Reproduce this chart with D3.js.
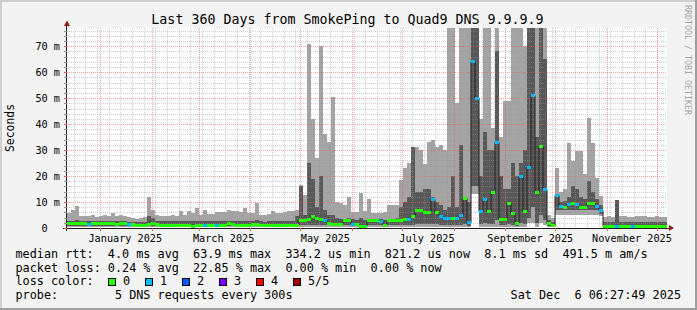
<!DOCTYPE html>
<html><head><meta charset="utf-8">
<script src="https://cdn.jsdelivr.net/npm/d3@7"></script>
<style>
html,body{margin:0;padding:0;background:#f3f3f3;}
svg{display:block;}
text{font-family:"DejaVu Sans Mono",monospace;white-space:pre;}
</style></head><body>
<svg id="chart" width="697" height="310"></svg>
<script>
// ---- data (milliseconds), one entry per ~2.4 day step ----
const minRtt = [
0.3,0.3,0.3,0.3,0.3,0.3,0.3,0.3,0.3,0.3,0.3,0.3,0.3,0.3,0.3,0.3,0.3,0.3,0.3,0.3,
0.3,0.3,0.3,0.3,0.3,0.3,0.3,0.3,0.3,0.3,0.3,0.3,0.3,0.3,0.3,0.3,0.3,0.3,0.3,0.3,
0.3,0.3,0.3,0.3,0.3,0.3,0.3,0.3,0.3,0.3,0.3,0.3,0.3,0.3,0.3,0.3,0.3,0.3,0.4,0.4,
0.4,0.4,0.4,0.4,0.4,0.4,0.4,0.4,0.4,0.4,0.4,0.4,0.4,0.3,0.3,0.4,0.4,0.4,0.4,0.4,
0.4,0.4,0.4,0.4,0.4,0.4,0.4,0.5,0.5,0.5,0.5,0.5,0.5,0.4,0.4,0.4,0.4,0.4,0.4,0.5,
0.3,13,13,0.5,0.5,0.5,0.5,0.5,0.4,0.4,0.5,0.4,0.3,0.5,0.5,2.0,2.0,0.5,2.0,1.0,
0.3,0.3,5.0,5.0,5.0,5.0,5.0,5.0,5.0,5.0,5.0,5.0,5.0,4.5,0.3,0.3,0.3,0.3,0.3,0.3,
0.3,0.3,0.3,0.3,0.3,0.3,0.3,0.3,0.3,0.3];
const lowRtt = [
0.8,0.8,0.8,0.8,0.8,0.8,0.8,0.8,0.8,0.8,0.8,0.8,0.8,0.8,0.8,0.8,0.7,0.6,0.6,0.6,
0.7,0.7,0.6,0.6,0.6,0.6,0.6,0.6,0.6,0.6,0.6,0.5,0.6,0.6,0.6,0.6,0.6,0.6,0.6,0.6,
0.7,0.6,0.6,0.6,0.6,0.6,0.6,0.7,0.6,0.5,0.5,0.5,0.5,0.5,0.6,0.6,0.6,0.6,1.0,1.0,
1.2,1.2,1.2,1.2,1.0,1.0,0.8,0.8,0.8,1.0,1.0,0.8,0.8,0.5,0.5,1.0,1.0,1.0,1.0,0.7,
1.0,1.0,1.0,1.0,1.0,1.0,1.2,1.5,1.5,1.5,1.5,1.5,1.5,1.2,1.0,1.0,1.0,1.0,1.2,1.5,
0.8,16,16,1.5,2.0,1.5,1.5,3.0,1.0,1.0,1.5,1.2,0.8,2.0,1.5,4.0,8.0,2.0,5.0,3.0,
0.6,0.5,6.8,6.8,6.8,7.0,7.0,7.0,6.8,6.8,7.0,7.0,6.8,5.5,0.5,0.5,0.5,0.5,0.5,0.5,
0.5,0.5,0.5,0.5,0.5,0.5,0.5,0.5,0.5,0.5];
const medianRtt = [
1.6,1.6,1.6,1.7,1.6,1.5,1.6,1.6,1.6,1.7,1.6,1.6,1.5,1.6,1.6,1.5,1.4,0.9,0.8,0.9,
1.2,1.6,1.2,1.0,0.9,1.0,0.9,1.0,1.1,1.0,1.0,0.6,1.0,1.0,1.1,1.0,1.0,1.0,1.0,1.0,
1.6,1.2,1.0,1.0,1.1,1.0,1.2,1.4,1.0,0.8,0.8,0.8,0.9,0.9,1.0,1.0,1.0,1.0,2.7,2.8,
3.3,4.5,3.5,3.3,3.0,1.8,1.4,1.4,1.4,3.0,3.0,1.5,1.4,0.7,0.7,2.7,2.7,2.7,2.4,1.0,
2.7,2.7,2.7,3.0,3.2,3.2,4.5,6.7,6.7,6.0,6.0,11.0,5.9,4.6,3.5,3.6,3.6,3.6,4.7,11.3,
2.0,64,50,6.2,11.0,6.2,13.5,33,3.2,3.2,9.6,5.7,1.9,19.8,6.2,23.3,51,13.6,31.5,14.9,
1.6,0.8,12.5,8.3,8.0,9.2,9.5,9.0,7.9,7.9,9.6,9.6,8.3,6.7,0.7,0.7,0.6,0.6,0.6,0.6,
0.6,0.6,0.6,0.6,0.6,0.6,0.6,0.6,0.6,0.6];
const highRtt = [
2.8,2.8,3.0,2.7,2.6,2.6,2.7,2.6,2.7,2.7,2.6,2.8,2.6,2.7,2.6,2.5,2.3,2.2,2.4,2.5,
4.5,4.0,2.8,2.6,2.6,2.7,2.6,2.6,2.8,2.6,2.7,2.7,2.8,2.6,2.8,2.6,2.6,2.7,2.7,2.6,
2.8,2.7,2.6,2.6,2.8,2.6,2.7,2.9,2.6,2.5,2.6,2.6,2.6,2.6,2.7,2.7,2.8,4.5,16,5.0,
25,19,8.0,20,7.0,5.0,5.0,4.0,3.5,3.5,4.0,3.5,3.0,4.0,3.0,3.5,3.5,3.5,3.5,3.2,
3.5,3.5,4.0,8.0,10,12,31,14,14,15,15,12,10,9.0,7.0,8.0,20,8.0,32,12,
10,80,80,20,37,30,30,68,20,15,15,25,20,25,30,80,80,35,80,65,
3.0,2.5,13,10,10.5,12,16,15,12,11,18,14,11,9.0,2.5,2.4,2.3,10.8,2.3,2.4,
2.3,2.3,2.4,2.3,2.4,2.3,2.3,2.4,2.3,2.3];
const maxRtt = [
5.8,7.0,8.3,4.8,4.6,4.5,4.9,4.4,4.6,5.0,4.7,5.6,4.8,5.0,4.6,4.4,3.8,3.6,4.0,4.2,
11.8,7.0,5.0,4.5,4.8,4.6,5.0,4.5,6.4,4.9,6.4,5.8,7.7,5.1,7.1,5.5,5.3,6.0,6.0,6.2,
7.1,6.4,6.4,6.0,7.7,5.8,5.8,9.6,5.1,5.1,5.3,6.4,5.8,5.8,6.0,6.4,6.4,7.1,16.6,12.8,
71,42,27,70,36,33,50.5,10,9.5,9.0,11.8,6.0,6.0,13.4,6.5,11,5.8,5.8,5.8,6.0,
9.0,9.0,9.0,18.5,23,25,31,31,30,24.5,33,34,31,32,30,80,80,48,80,80,
80,80,80,42,80,80,38.5,80,35,49,49,80,80,80,70,80,80,80,80,80,
5.0,4.0,23,14,15,32.8,25.8,29.7,29.7,20.6,42.5,32.8,19.3,12.3,4.3,4.5,4.3,10.8,4.5,4.6,
4.3,4.4,4.6,4.5,4.5,4.3,4.4,4.5,4.3,4.4];
const lossCount = [
0,0,0,0,0,1,0,0,0,0,0,0,0,0,0,1,0,0,0,0,
0,0,0,0,0,0,0,0,0,0,0,0,0,0,1,0,0,1,0,0,
0,0,0,0,0,0,0,0,0,0,0,0,0,0,0,0,0,0,0,0,
0,0,0,0,1,0,0,0,0,0,0,1,0,0,0,0,0,0,1,0,
0,0,0,0,0,1,0,0,0,0,0,1,0,1,1,1,0,1,1,0,
1,1,1,1,1,0,0,1,0,0,0,0,0,1,0,1,1,0,0,1,
0,0,1,1,0,1,0,1,0,0,0,0,1,1,0,0,0,1,0,0,
0,1,0,0,0,0,0,0,0,0];

const yTickValues = [0,10,20,30,40,50,60,70];
const yTickLabels = ["0","10 m","20 m","30 m","40 m","50 m","60 m","70 m"];
const monthLabels = ["January 2025","March 2025","May 2025","July 2025","September 2025","November 2025"];
const lossNames = ["0","1","2","3","4","5/5"];
const lossColors = ["#26ff00","#00b8ff","#0059ff","#7e00ff","#ff0000","#a10000"];
const legendLines = [
  "median rtt:  4.0 ms avg  63.9 ms max  334.2 us min  821.2 us now  8.1 ms sd  491.5 m am/s",
  "packet loss: 0.24 % avg  22.85 % max  0.00 % min  0.00 % now"
];

// ---- layout ----
const svg = d3.select("#chart");
const P = {left:67, right:667, top:28, bottom:228};
const startTime = new Date(Date.UTC(2024,11,12,0,30,0));
const endTime = new Date(+startTime + 360*864e5);
const x = d3.scaleUtc().domain([startTime,endTime]).range([P.left,P.right]);
const y = d3.scaleLinear().domain([0,77]).range([P.bottom,P.top]).clamp(true);
const n = medianRtt.length;
const stepMs = (+endTime - +startTime)/n;
const tAt = i => new Date(+startTime + i*stepMs);

// background + frame shading
svg.append("rect").attr("width",697).attr("height",310).attr("fill","#f3f3f3");
svg.append("rect").attr("x",0).attr("y",0).attr("width",697).attr("height",2).attr("fill","#cfcfcf");
svg.append("rect").attr("x",0).attr("y",0).attr("width",2).attr("height",310).attr("fill","#cfcfcf");
svg.append("rect").attr("x",0).attr("y",308).attr("width",697).attr("height",2).attr("fill","#9e9e9e");
svg.append("rect").attr("x",695).attr("y",0).attr("width",2).attr("height",310).attr("fill","#9e9e9e");
svg.append("rect").attr("x",P.left).attr("y",P.top).attr("width",P.right-P.left).attr("height",P.bottom-P.top).attr("fill","#ffffff");

const g = svg.append("g").attr("shape-rendering","crispEdges");
const cols = d3.range(n);
// outer smoke
g.selectAll("rect.s0").data(cols).join("rect")
  .attr("x",i=>x(tAt(i))).attr("width",i=>x(tAt(i+1))-x(tAt(i)))
  .attr("y",i=>y(maxRtt[i])).attr("height",i=>y(minRtt[i])-y(maxRtt[i]))
  .attr("fill","#a4a4a4");
// inner smoke
g.selectAll("rect.s1").data(cols).join("rect")
  .attr("x",i=>x(tAt(i))).attr("width",i=>x(tAt(i+1))-x(tAt(i)))
  .attr("y",i=>y(highRtt[i])).attr("height",i=>y(lowRtt[i])-y(highRtt[i]))
  .attr("fill","#585858");

// grid
const grid = svg.append("g").attr("shape-rendering","crispEdges");
const minorY = d3.range(2,77,2).filter(v=>v%10!==0);
grid.selectAll("line.hy").data(minorY).join("line")
  .attr("x1",P.left).attr("x2",P.right).attr("y1",v=>Math.round(y(v))+0.5).attr("y2",v=>Math.round(y(v))+0.5)
  .attr("stroke","rgba(150,150,150,0.45)").attr("stroke-dasharray","1,1");
const weeks = d3.utcMonday.range(startTime,endTime);
grid.selectAll("line.vx").data(weeks).join("line")
  .attr("y1",P.top).attr("y2",P.bottom).attr("x1",d=>Math.round(x(d))+0.5).attr("x2",d=>Math.round(x(d))+0.5)
  .attr("stroke","rgba(150,150,150,0.45)").attr("stroke-dasharray","1,1");
grid.selectAll("line.my").data(yTickValues.filter(v=>v>0)).join("line")
  .attr("x1",P.left).attr("x2",P.right).attr("y1",v=>Math.round(y(v))+0.5).attr("y2",v=>Math.round(y(v))+0.5)
  .attr("stroke","rgba(240,90,90,0.55)").attr("stroke-dasharray","1,1");
const months = d3.utcMonth.range(startTime,endTime);
grid.selectAll("line.mx").data(months).join("line")
  .attr("y1",P.top).attr("y2",P.bottom).attr("x1",d=>Math.round(x(d))+0.5).attr("x2",d=>Math.round(x(d))+0.5)
  .attr("stroke","rgba(240,90,90,0.55)").attr("stroke-dasharray","1,1");

// median line
const medLine = d3.line().curve(d3.curveStepAfter).x(d=>x(tAt(d))).y(d=>y(medianRtt[Math.min(d,n-1)]));
svg.append("path").datum(d3.range(n+1)).attr("d",medLine).attr("fill","none").attr("stroke","#202020").attr("stroke-width",1);
// loss-coloured median band
svg.append("g").attr("shape-rendering","crispEdges").selectAll("rect").data(cols).join("rect")
  .attr("x",i=>x(tAt(i))).attr("width",i=>x(tAt(i+1))-x(tAt(i)))
  .attr("y",i=>y(medianRtt[i])-1.5).attr("height",3)
  .attr("fill",i=>lossColors[lossCount[i]]);

// axes
const ax = svg.append("g").attr("shape-rendering","crispEdges");
ax.append("line").attr("x1",63).attr("x2",669).attr("y1",P.bottom+0.5).attr("y2",P.bottom+0.5).attr("stroke","#202020");
ax.append("line").attr("x1",P.left-0.5).attr("x2",P.left-0.5).attr("y1",231).attr("y2",25).attr("stroke","#202020");
ax.selectAll("line.yt").data(d3.range(0,77,2)).join("line")
  .attr("x1",P.left-3).attr("x2",P.left).attr("y1",v=>Math.round(y(v))+0.5).attr("y2",v=>Math.round(y(v))+0.5)
  .attr("stroke",v=>v%10===0?"#e06060":"#909090");
ax.selectAll("line.xt").data(months).join("line")
  .attr("y1",P.bottom).attr("y2",P.bottom+3).attr("x1",d=>Math.round(x(d))+0.5).attr("x2",d=>Math.round(x(d))+0.5)
  .attr("stroke","#e06060");
svg.append("path").attr("d","M64,26L70,26L67,20.5Z").attr("fill","#8b1a1a");
svg.append("path").attr("d","M669,225L669,231L674,228Z").attr("fill","#8b1a1a");

// y tick labels
const charW = 10.2*0.602;
svg.selectAll("text.yl").data(yTickValues).join("text")
  .attr("x",(v,i)=> i===0 ? 60-2*charW : 60)
  .attr("y",v=>y(v)+3.5).attr("text-anchor","end").attr("font-size","10.2px").attr("fill","#000")
  .text((v,i)=>yTickLabels[i]);
// x labels: every second month, centred mid-month
const labelMonths = months.filter(d=>d.getUTCMonth()%2===0);
svg.selectAll("text.xl").data(labelMonths).join("text")
  .attr("x",d=>x(d3.utcDay.offset(d,15))).attr("y",242).attr("text-anchor","middle")
  .attr("font-size","10.2px").text((d,i)=>monthLabels[i]);

// title / labels
svg.append("text").attr("x",347.5).attr("y",23.5).attr("text-anchor","middle").attr("font-size","13.3px")
  .text("Last 360 Days from SmokePing to Quad9 DNS 9.9.9.9");
svg.append("text").attr("transform","translate(13.5,128) rotate(-90)").attr("text-anchor","middle")
  .attr("font-size","11.4px").text("Seconds");
svg.append("text").attr("transform","translate(685,5) rotate(90)").attr("font-size","8.3px").attr("fill","#a8a8a8")
  .text("RRDTOOL / TOBI OETIKER");

// legend
const LF = "11.8px";
legendLines.forEach((s,k)=>{
  svg.append("text").attr("x",15.5).attr("y",258+k*13.5).attr("font-size",LF).text(s);
});
svg.append("text").attr("x",15.5).attr("y",285).attr("font-size",LF).text("loss color:");
const lg = svg.append("g");
lossNames.forEach((nm,k)=>{
  const bx = 108.5 + k*37;
  lg.append("rect").attr("x",bx).attr("y",278.5).attr("width",7).attr("height",7)
    .attr("fill",lossColors[k]).attr("stroke","#000").attr("stroke-width",1);
  lg.append("text").attr("x",bx+14.5).attr("y",285).attr("font-size",LF).text(nm);
});
svg.append("text").attr("x",15.5).attr("y",298.5).attr("font-size",LF).text("probe:        5 DNS requests every 300s");
svg.append("text").attr("x",681).attr("y",298.5).attr("text-anchor","end").attr("font-size",LF).text("Sat Dec  6 06:27:49 2025");
</script>
</body></html>
